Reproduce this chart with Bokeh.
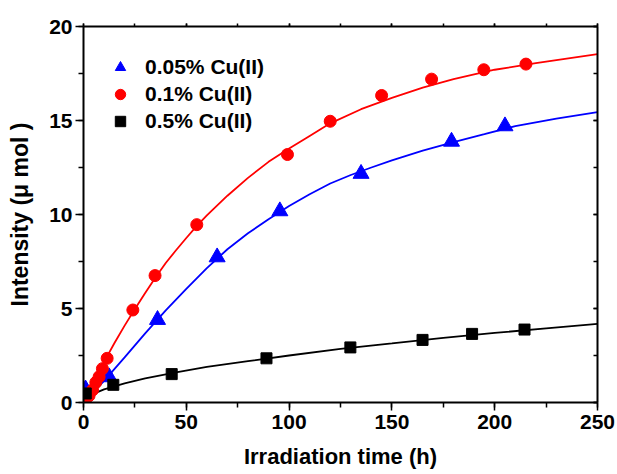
from bokeh.plotting import figure
from bokeh.models import (Range1d, LinearAxis, SingleIntervalTicker, Legend, LegendItem,
                          CustomJSTickFormatter)
from bokeh.embed import file_html
from bokeh.resources import INLINE

# ---- data ----
series_labels = ["0.05% Cu(II)", "0.1% Cu(II)", "0.5% Cu(II)"]

t_005 = [1, 12.5, 36, 65, 95.5, 135, 179, 205]
i_005 = [0.7, 1.35, 4.4, 7.73, 10.18, 12.17, 13.88, 14.7]

t_01 = [1.1, 2.7, 4.4, 6.0, 7.6, 9.2, 11.5, 24, 34.8, 55.1, 99.2, 120, 145, 169.3, 194.7, 215.2]
i_01 = [0.18, 0.36, 0.66, 1.07, 1.37, 1.8, 2.35, 4.92, 6.75, 9.46, 13.19, 14.96, 16.33, 17.2, 17.7, 18.0]

t_05 = [1.1, 14.5, 42.9, 89, 129.8, 164.9, 189, 214.5]
i_05 = [0.48, 0.94, 1.51, 2.35, 2.93, 3.33, 3.65, 3.88]

# fitted curves as drawn in the reference
fit_t_005 = [0, 10, 20, 30, 40, 50, 60, 70, 80, 90, 100, 110, 120, 130, 140, 150, 165, 180, 195, 210, 230, 250]
fit_i_005 = [0, 1.15, 2.4, 3.68, 4.9, 6.05, 7.15, 8.15, 9.0, 9.75, 10.45, 11.08, 11.65, 12.1, 12.5,
             12.88, 13.4, 13.85, 14.27, 14.7, 15.1, 15.45]

fit_t_01 = [0, 5, 10, 15, 20, 25, 30, 35, 40, 45, 50, 55, 60, 70, 80, 90, 100, 110, 120, 135, 150,
            165, 180, 200, 220, 250]
fit_i_01 = [0, 1.1, 2.16, 3.15, 4.09, 4.97, 5.82, 6.65, 7.42, 8.1, 8.75, 9.38, 9.95, 11.0, 11.95,
            12.8, 13.51, 14.18, 14.85, 15.6, 16.2, 16.75, 17.2, 17.7, 18.05, 18.53]

fit_t_05 = [0, 2, 5, 10, 20, 30, 45, 60, 80, 100, 125, 150, 175, 200, 225, 250]
fit_i_05 = [0, 0.27, 0.47, 0.7, 1.02, 1.28, 1.6, 1.89, 2.2, 2.5, 2.85, 3.14, 3.44, 3.7, 3.94, 4.18]

x_title = "Irradiation time (h)"
y_title = "Intensity (\u03bc mol )"

FONT = "Liberation Sans"

p = figure(width=617, height=474, output_backend="svg", toolbar_location=None,
           x_range=Range1d(0, 250), y_range=Range1d(0, 20),
           x_axis_location=None, y_axis_location=None,
           min_border_left=83, min_border_right=20, min_border_top=26, min_border_bottom=72)
p.xgrid.visible = False
p.ygrid.visible = False
p.outline_line_color = None
p.background_fill_color = "white"
p.border_fill_color = "white"


def style_axis(ax, labels=True):
    ax.axis_line_width = 2
    ax.axis_line_color = "black"
    ax.major_tick_line_width = 1.5
    ax.minor_tick_line_width = 1.5
    ax.major_tick_line_color = "black"
    ax.minor_tick_line_color = "black"
    ax.major_label_text_font = FONT
    ax.major_label_text_font_style = "bold"
    ax.major_label_text_font_size = "21px"
    ax.major_label_text_color = "black"
    ax.axis_label_text_font = FONT
    ax.axis_label_text_font_style = "bold"
    ax.axis_label_text_font_size = "22px"
    ax.axis_label_text_color = "black"
    if not labels:
        ax.formatter = CustomJSTickFormatter(code="return ''")


xb = LinearAxis(ticker=SingleIntervalTicker(interval=50, num_minor_ticks=2), axis_label=x_title)
style_axis(xb)
xb.major_tick_out = 8
xb.major_tick_in = 0
xb.minor_tick_out = 5
xb.minor_tick_in = 0
xb.major_label_standoff = 4
xb.axis_label_standoff = 12
p.add_layout(xb, "below")

yl = LinearAxis(ticker=SingleIntervalTicker(interval=5, num_minor_ticks=2), axis_label=y_title)
style_axis(yl)
yl.axis_label_text_font_size = "23px"
yl.major_tick_out = 8
yl.major_tick_in = 0
yl.minor_tick_out = 5
yl.minor_tick_in = 0
yl.major_label_standoff = 3
yl.axis_label_standoff = 13
p.add_layout(yl, "left")

xt = LinearAxis(ticker=SingleIntervalTicker(interval=50, num_minor_ticks=2))
style_axis(xt, labels=False)
xt.major_tick_out = 3
xt.major_tick_in = 0
xt.minor_tick_out = 3
xt.minor_tick_in = 0
xt.major_label_standoff = 0
p.add_layout(xt, "above")

yr = LinearAxis(ticker=SingleIntervalTicker(interval=5, num_minor_ticks=2))
style_axis(yr, labels=False)
yr.major_tick_out = 0
yr.major_tick_in = 4
yr.minor_tick_out = 0
yr.minor_tick_in = 4
yr.major_label_standoff = 0
p.add_layout(yr, "right")

# fit lines
p.line(fit_t_005, fit_i_005, line_color="#0000FF", line_width=1.8)
p.line(fit_t_01, fit_i_01, line_color="#FF0000", line_width=1.8)
p.line(fit_t_05, fit_i_05, line_color="black", line_width=1.8)

# markers
r_tri = p.scatter(t_005, i_005, marker="triangle", size=16, fill_color="#0000FF", line_color="#0000FF")
r_cir = p.scatter(t_01, i_01, marker="circle", size=12, fill_color="#FF0000", line_color="#FF0000")
r_sq = p.scatter(t_05, i_05, marker="square", size=11, fill_color="black", line_color="black")

legend = Legend(items=[LegendItem(label=series_labels[0], renderers=[r_tri]),
                       LegendItem(label=series_labels[1], renderers=[r_cir]),
                       LegendItem(label=series_labels[2], renderers=[r_sq])],
                location=(24, 268))
legend.label_text_font = FONT
legend.label_text_font_style = "bold"
legend.label_text_font_size = "21px"
legend.label_text_color = "black"
legend.glyph_width = 26
legend.glyph_height = 26
legend.label_height = 26
legend.spacing = 1
legend.padding = 0
legend.margin = 0
legend.label_standoff = 12
legend.border_line_color = None
legend.background_fill_alpha = 0
p.add_layout(legend, "center")

open("out.html", "w").write(file_html(p, INLINE))
